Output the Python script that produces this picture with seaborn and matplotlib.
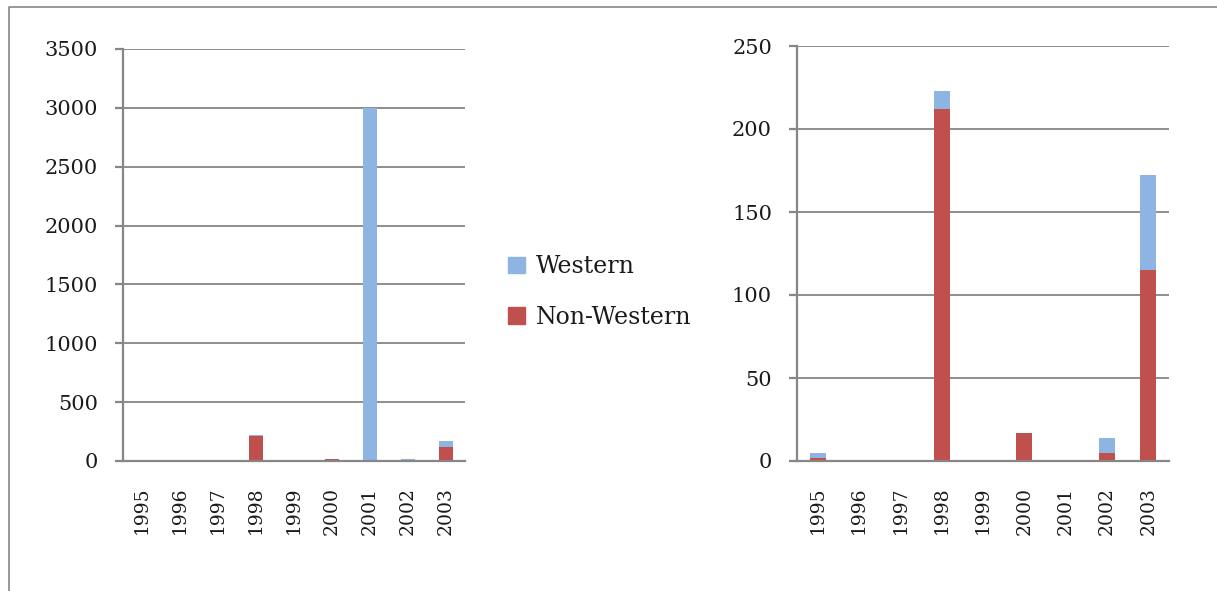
import numpy as np
import pandas as pd
import matplotlib
matplotlib.use("Agg")
import matplotlib.pyplot as plt
import seaborn as sns
from matplotlib.lines import Line2D
from matplotlib.patches import Patch

# ---------------------------------------------------------------------------
# Data
# ---------------------------------------------------------------------------
years = ["1995", "1996", "1997", "1998", "1999", "2000", "2001", "2002", "2003"]
western = [3, 0, 0, 11, 0, 0, 3000, 9, 57]
non_western = [2, 0, 0, 212, 0, 17, 0, 5, 115]
# right panel leaves out the 2001 outlier
western_zoom = [3, 0, 0, 11, 0, 0, 0, 9, 57]
non_western_zoom = [2, 0, 0, 212, 0, 17, 0, 5, 115]

BLUE = "#8EB4E3"
RED = "#C0504D"
GREY = "#868686"
W, H = 1217, 591

sns.set_style("white")
plt.rcParams["font.family"] = ["DejaVu Serif"]


def stacked(ax, west, nonwest, ymax, step):
    df = pd.DataFrame({"year": years, "west": west, "nonwest": nonwest})
    df["total"] = df["west"] + df["nonwest"]
    sns.barplot(data=df, x="year", y="total", order=years, color=BLUE,
                width=0.38, saturation=1, linewidth=0, ax=ax, zorder=3)
    sns.barplot(data=df, x="year", y="nonwest", order=years, color=RED,
                width=0.38, saturation=1, linewidth=0, ax=ax, zorder=4)

    ax.set_xlim(-0.5, len(years) - 0.5)
    ax.set_ylim(0, ymax)
    ax.set_yticks(np.arange(0, ymax + 1, step))
    ax.set_xlabel("")
    ax.set_ylabel("")
    ax.grid(axis="y", color=GREY, lw=1.3, zorder=0)
    for s in ["top", "right"]:
        ax.spines[s].set_visible(False)
    for s in ["left", "bottom"]:
        ax.spines[s].set_color(GREY)
        ax.spines[s].set_linewidth(1.6)
        ax.spines[s].set_zorder(5)

    ax.set_xticks(np.arange(-0.5, len(years)), minor=True)
    ax.tick_params(axis="x", which="major", length=0, labelrotation=90,
                   labelsize=13.5, pad=18.5)
    ax.tick_params(axis="x", which="minor", length=4, width=1.6, color=GREY)
    ax.tick_params(axis="y", length=6, width=1.6, color=GREY, labelsize=15, pad=12)
    ax.tick_params(left=True, bottom=True)
    for lab in ax.get_xticklabels() + ax.get_yticklabels():
        lab.set_color("#1a1a1a")


fig = plt.figure(figsize=(W / 100, H / 100), dpi=100)

ax1 = fig.add_axes([123 / W, (H - 461) / H, 342 / W, (461 - 49) / H])
stacked(ax1, western, non_western, 3500, 500)

ax2 = fig.add_axes([797 / W, (H - 461) / H, 372 / W, (461 - 46) / H])
stacked(ax2, western_zoom, non_western_zoom, 250, 50)

handles = [Patch(color=BLUE, label="Western"), Patch(color=RED, label="Non-Western")]
fig.legend(handles=handles, loc="center left", bbox_to_anchor=(487 / W, (H - 292) / H),
           frameon=False, fontsize=17, handlelength=0.7, handleheight=0.7,
           handletextpad=0.45, labelspacing=1.15, labelcolor="#1a1a1a")

# outer frame (top and left edges visible)
fig.add_artist(Line2D([9 / W, 9 / W, 1.0], [0.0, 1 - 7 / H, 1 - 7 / H],
                      color=GREY, lw=1.2, transform=fig.transFigure))

fig.savefig("out.png", dpi=100)
